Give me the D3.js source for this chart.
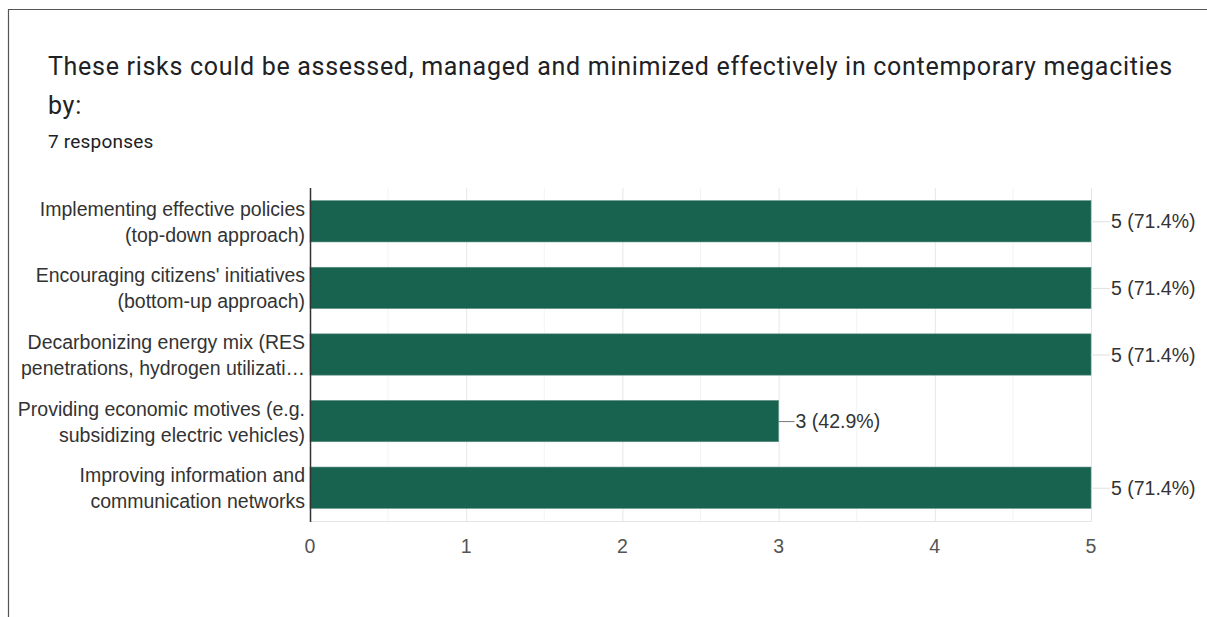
<!DOCTYPE html>
<html><head><meta charset="utf-8">
<script src="https://cdn.jsdelivr.net/npm/d3@7"></script>
<style>
html,body{margin:0;padding:0;background:#fff;}
svg{display:block;}
</style></head>
<body>
<svg id="chart" width="1207" height="617"></svg>
<script>
const titleLines = ["These risks could be assessed, managed and minimized effectively in contemporary megacities", "by:"];
const subtitle = "7 responses";
const categories = [
  ["Implementing effective policies", "(top-down approach)"],
  ["Encouraging citizens' initiatives", "(bottom-up approach)"],
  ["Decarbonizing energy mix (RES", "penetrations, hydrogen utilizati…"],
  ["Providing economic motives (e.g.", "subsidizing electric vehicles)"],
  ["Improving information and", "communication networks"]
];
const values = [5, 5, 5, 3, 5];
const valueLabels = ["5 (71.4%)", "5 (71.4%)", "5 (71.4%)", "3 (42.9%)", "5 (71.4%)"];
const xTicks = [0, 1, 2, 3, 4, 5];
const minorTicks = [0.5, 1.5, 2.5, 3.5, 4.5];

(function(){
const svg = d3.select("#chart");
// card border
svg.append("path").attr("d", "M8.5,617 V9.5 H1207").attr("fill", "none").attr("stroke", "#555").attr("stroke-width", 1.2);

const tg = svg.append("g");
tg.selectAll("text.title").data(titleLines).join("text")
  .attr("x", 48).attr("y", (d, i) => 75 + i * 39)
  .attr("font-family", "Roboto, 'Open Sans', sans-serif").attr("font-size", 25)
  .attr("letter-spacing", 0.7)
  .attr("fill", "#202124").text(d => d);
tg.append("text").attr("x", 48).attr("y", 148)
  .attr("font-family", "Roboto, sans-serif").attr("font-size", 19)
  .attr("letter-spacing", 0.2)
  .attr("fill", "#202124").text(subtitle);

const pLeft = 310, pRight = 1091, pTop = 188, pBottom = 521;
const x = d3.scaleLinear().domain([0, 5]).range([pLeft, pRight]);
const y = d3.scaleBand().domain(d3.range(categories.length)).range([pTop, pBottom]).paddingInner(0.38).paddingOuter(0.19);

// minor gridlines
svg.append("g").selectAll("line").data(minorTicks).join("line")
  .attr("x1", d => x(d)).attr("x2", d => x(d)).attr("y1", pTop).attr("y2", pBottom)
  .attr("stroke", "#f3f3f3").attr("stroke-width", 1);
// major gridlines
svg.append("g").selectAll("line").data(xTicks).join("line")
  .attr("x1", d => x(d) + 0.5).attr("x2", d => x(d) + 0.5).attr("y1", pTop).attr("y2", pBottom)
  .attr("stroke", "#e6e6e6").attr("stroke-width", 1);
svg.append("line").attr("x1", pLeft).attr("x2", pRight + 1).attr("y1", pBottom + 0.5).attr("y2", pBottom + 0.5)
  .attr("stroke", "#e6e6e6");

// bars
svg.append("g").selectAll("rect").data(values).join("rect")
  .attr("x", x(0)).attr("y", (d, i) => y(i))
  .attr("width", d => x(d) - x(0)).attr("height", y.bandwidth())
  .attr("fill", "#186350").attr("stroke", "#5c8f80").attr("stroke-width", 0.6);

// baseline axis
svg.append("line").attr("x1", pLeft + 0.5).attr("x2", pLeft + 0.5).attr("y1", pTop).attr("y2", pBottom + 1)
  .attr("stroke", "#333").attr("stroke-width", 1.5);

// category labels
const lab = svg.append("g").attr("font-family", "'Liberation Sans', Arial, sans-serif").attr("font-size", 19.5).attr("fill", "#333");
categories.forEach((lines, i) => {
  const cy = y(i) + y.bandwidth() / 2;
  lines.forEach((t, j) => {
    lab.append("text").attr("x", 305).attr("y", cy - 5.5 + j * 26).attr("text-anchor", "end").text(t);
  });
});

// value labels with leader lines
const vl = svg.append("g");
values.forEach((v, i) => {
  const cy = y(i) + y.bandwidth() / 2;
  const lx = v === 5 ? x(v) + 20 : x(v) + 17;
  vl.append("line").attr("x1", x(v)).attr("x2", lx - 1).attr("y1", cy + 0.5).attr("y2", cy + 0.5)
    .attr("stroke", v === 5 ? "#e0e0e0" : "#777").attr("stroke-width", 1);
  vl.append("text").attr("x", lx).attr("y", cy + 7)
    .attr("font-family", "'Liberation Sans', Arial, sans-serif").attr("font-size", 19.5).attr("fill", "#333")
    .text(valueLabels[i]);
});

// x axis tick labels
svg.append("g").selectAll("text").data(xTicks).join("text")
  .attr("x", d => x(d)).attr("y", 553).attr("text-anchor", "middle")
  .attr("font-family", "'Liberation Sans', Arial, sans-serif").attr("font-size", 19.5).attr("fill", "#555")
  .text(d => d);
})();
</script>
</body></html>
